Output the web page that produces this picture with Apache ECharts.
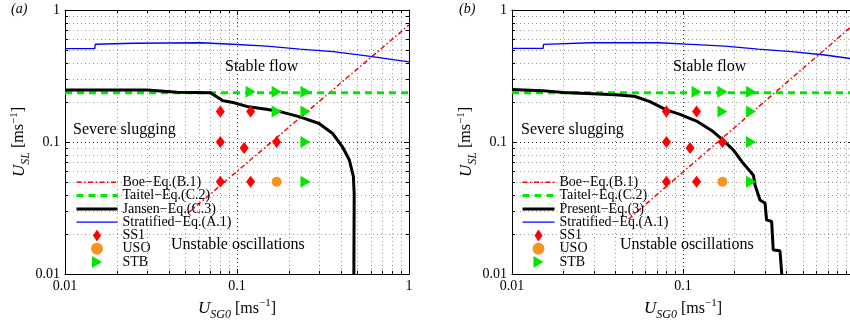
<!DOCTYPE html>
<html>
<head>
<meta charset="utf-8">
<script src="https://cdn.jsdelivr.net/npm/echarts@6/dist/echarts.min.js"></script>
<style>
	html, body { margin: 0; padding: 0; background: #fff; }
	#chart { width: 850px; height: 322px; }
</style>
</head>
<body>
<div id="chart"></div>
<script>
// axis values
var axisMin = 0.01;
var axisMax = 1;
var minorTicks = [0.02, 0.03, 0.04, 0.05, 0.06, 0.07, 0.08, 0.09, 0.2, 0.3, 0.4, 0.5, 0.6, 0.7, 0.8, 0.9];

// curves, [U_SG0, U_SL]
var boeLineA = [[0.052, 0.029], [1, 0.77]];
var boeLineB = [[0.048, 0.026], [1, 0.78]];
var taitelLine = [[0.01, 0.236], [1, 0.236]];
var stratifiedLineA = [[0.01, 0.51], [0.0149, 0.51], [0.015, 0.55], [0.025, 0.56], [0.061, 0.565], [0.095, 0.55], [0.149, 0.533], [0.232, 0.506], [0.363, 0.484], [0.568, 0.45], [1, 0.405]];
var stratifiedLineB = [[0.01, 0.512], [0.0152, 0.512], [0.0153, 0.549], [0.029, 0.565], [0.072, 0.565], [0.112, 0.549], [0.176, 0.533], [0.275, 0.506], [0.432, 0.484], [0.676, 0.456], [1, 0.425]];
var jansenLine = [[0.01, 0.248], [0.03, 0.248], [0.045, 0.238], [0.07, 0.236], [0.083, 0.205], [0.095, 0.199], [0.114, 0.186], [0.148, 0.177], [0.178, 0.17], [0.232, 0.155], [0.3, 0.138], [0.36, 0.116], [0.41, 0.092], [0.45, 0.073], [0.475, 0.055], [0.48, 0.04], [0.478, 0.01]];
var presentLine = [[0.01, 0.25], [0.015, 0.245], [0.02, 0.237], [0.04, 0.228], [0.052, 0.222], [0.064, 0.202], [0.08, 0.175], [0.096, 0.162], [0.115, 0.147], [0.12, 0.144], [0.15, 0.12], [0.172, 0.103], [0.197, 0.087], [0.225, 0.069], [0.258, 0.056], [0.264, 0.047], [0.282, 0.0364], [0.302, 0.0343], [0.308, 0.0257], [0.33, 0.025], [0.337, 0.0152], [0.369, 0.015], [0.378, 0.01]];

// experiments
var ss1Points = [[0.08, 0.17], [0.12, 0.17], [0.08, 0.1], [0.11, 0.09], [0.17, 0.1], [0.08, 0.05], [0.12, 0.05]];
var usoPoints = [[0.17, 0.05]];
var stbPoints = [[0.12, 0.24], [0.17, 0.24], [0.25, 0.24], [0.17, 0.17], [0.25, 0.17], [0.25, 0.1], [0.25, 0.05]];

var namesA = ['Boe−Eq.(B.1)', 'Taitel−Eq.(C.2)', 'Jansen−Eq.(C.3)', 'Stratified−Eq.(A.1)', 'SS1', 'USO', 'STB'];
var namesB = ['Boe−Eq.(B.1)', 'Taitel−Eq.(C.2)', 'Present−Eq.(3)', 'Stratified−Eq.(A.1)', 'SS1', 'USO', 'STB'];


var serif = 'Liberation Serif';
var colors = {
	boe: '#ff0000',
	taitel: '#00e600',
	curve: '#000000',
	stratified: '#0000ff',
	ss1: '#ff0000',
	uso: '#f7931e',
	stb: '#00e600',
	grid: '#999999',
	major: '#333333'
};

// zero-area symbol so line legends show only the stroke
var noMarker = 'path://M0,0L1,1L2,2Z';

var chart = echarts.init(document.getElementById('chart'), null, { renderer: 'canvas' });

function snap(v) {
	return Math.round(v) + 0.5;
}

function renderMinorGrid(params, api) {
	var v = api.value(0);
	var b = api.coord([v, axisMin]);
	var t = api.coord([v, axisMax]);
	var l = api.coord([axisMin, v]);
	var r = api.coord([axisMax, v]);
	var dotted = { stroke: colors.grid, lineWidth: 1, lineDash: [1, 3] };
	var tick = { stroke: '#000', lineWidth: 1 };
	var x = snap(b[0]);
	var y = snap(l[1]);
	return {
		type: 'group',
		children: [
			{ type: 'line', shape: { x1: x, y1: b[1], x2: x, y2: t[1] }, style: dotted },
			{ type: 'line', shape: { x1: l[0], y1: y, x2: r[0], y2: y }, style: dotted },
			{ type: 'line', shape: { x1: x, y1: b[1], x2: x, y2: b[1] - 3 }, style: tick },
			{ type: 'line', shape: { x1: x, y1: t[1], x2: x, y2: t[1] + 3 }, style: tick },
			{ type: 'line', shape: { x1: l[0], y1: y, x2: l[0] + 3, y2: y }, style: tick },
			{ type: 'line', shape: { x1: r[0], y1: y, x2: r[0] - 3, y2: y }, style: tick }
		]
	};
}

function makeAxis(gridIndex, position, showLabels, isX) {
	var axis = {
		type: 'log',
		logBase: 10,
		gridIndex: gridIndex,
		position: position,
		min: axisMin,
		max: axisMax,
		axisLine: { show: true, onZero: false, lineStyle: { color: '#000', width: 1 } },
		axisTick: { show: true, inside: true, length: 5, lineStyle: { color: '#000' } },
		axisLabel: {
			show: showLabels,
			fontFamily: serif,
			fontSize: 14,
			color: '#000',
			margin: 5,
			formatter: function (v) { return String(+v.toPrecision(3)); }
		},
		splitLine: {
			show: showLabels,
			lineStyle: { color: colors.major, type: [1, 3], width: 1 }
		}
	};
	if (showLabels) {
		axis.nameLocation = 'middle';
		axis.nameTextStyle = {
			fontFamily: serif,
			color: '#000',
			fontSize: 16,
			rich: {
				u: { fontFamily: serif, fontSize: 17, fontStyle: 'italic', color: '#000' },
				sub: { fontFamily: serif, fontSize: 12, fontStyle: 'italic', color: '#000', padding: [13, 0, 0, 0] },
				t: { fontFamily: serif, fontSize: 16, color: '#000' },
				sup: { fontFamily: serif, fontSize: 11, color: '#000', padding: [0, 0, 10, 0] }
			}
		};
		if (isX) {
			axis.name = '{u|U}{sub|SG0}{t| [ms}{sup|−1}{t|]}';
			axis.nameGap = 19;
		} else {
			axis.name = '{u|U}{sub|SL}{t| [ms}{sup|−1}{t|]}';
			axis.nameGap = 31;
		}
	}
	return axis;
}

function buildSeries(axisIndex, curveName, curveData, boeData, stratData) {
	var common = { xAxisIndex: axisIndex, yAxisIndex: axisIndex, animation: false };
	return [
		Object.assign({
			type: 'custom',
			name: 'minor-grid',
			silent: true,
			z: 0,
			data: minorTicks.map(function (v) { return [v, v]; }),
			encode: { x: 0, y: 1 },
			renderItem: renderMinorGrid
		}, common),
		Object.assign({
			type: 'line', name: 'Boe−Eq.(B.1)', data: boeData, symbol: noMarker, showSymbol: false, z: 3,
			lineStyle: { color: colors.boe, width: 1.5, type: [5, 2.5, 1.5, 2.5] },
			itemStyle: { color: colors.boe }
		}, common),
		Object.assign({
			type: 'line', name: 'Taitel−Eq.(C.2)', data: taitelLine, symbol: noMarker, showSymbol: false, z: 3,
			lineStyle: { color: colors.taitel, width: 3, type: [7, 5] },
			itemStyle: { color: colors.taitel }
		}, common),
		Object.assign({
			type: 'line', name: curveName, data: curveData, symbol: noMarker, showSymbol: false, z: 3,
			lineStyle: { color: colors.curve, width: 3 },
			itemStyle: { color: colors.curve }
		}, common),
		Object.assign({
			type: 'line', name: 'Stratified−Eq.(A.1)', data: stratData, symbol: noMarker, showSymbol: false, z: 3,
			lineStyle: { color: colors.stratified, width: 1.3 },
			itemStyle: { color: colors.stratified }
		}, common),
		Object.assign({
			type: 'scatter', name: 'SS1', data: ss1Points, z: 4,
			symbol: 'path://M4,0L8,6L4,12L0,6Z', symbolSize: [9, 12],
			itemStyle: { color: colors.ss1, opacity: 1 }
		}, common),
		Object.assign({
			type: 'scatter', name: 'USO', data: usoPoints, z: 4,
			symbol: 'circle', symbolSize: 10,
			itemStyle: { color: colors.uso, opacity: 1 }
		}, common),
		Object.assign({
			type: 'scatter', name: 'STB', data: stbPoints, z: 4,
			symbol: 'path://M0,0L10,6L0,12Z', symbolSize: [10, 12],
			itemStyle: { color: colors.stb, opacity: 1 }
		}, common)
	];
}

function makeLegend(names, left, itemWidth) {
	return {
		data: names,
		orient: 'vertical',
		left: left,
		top: 175.3,
		itemWidth: itemWidth,
		itemHeight: 12,
		itemGap: -0.7,
		padding: 0,
		selectedMode: false,
		lineStyle: { width: 'inherit' },
		textStyle: {
			fontFamily: serif,
			fontSize: 14,
			color: '#000'
		}
	};
}

function label(text, left, top, size, italic) {
	return {
		type: 'text',
		left: left,
		top: top,
		z: 10,
		style: {
			text: text,
			fontFamily: serif,
			fontSize: size,
			fontStyle: italic ? 'italic' : 'normal',
			fill: '#000'
		}
	};
}

var option = {
	backgroundColor: '#ffffff',
	animation: false,
	grid: [
		{ left: 65, top: 10, width: 344, height: 264, outerBoundsMode: 'none', containLabel: false },
		{ left: 512, top: 10, width: 342, height: 264, outerBoundsMode: 'none', containLabel: false }
	],
	xAxis: [
		makeAxis(0, 'bottom', true, true),
		makeAxis(0, 'top', false, true),
		makeAxis(1, 'bottom', true, true),
		makeAxis(1, 'top', false, true)
	],
	yAxis: [
		makeAxis(0, 'left', true, false),
		makeAxis(0, 'right', false, false),
		makeAxis(1, 'left', true, false),
		makeAxis(1, 'right', false, false)
	],
	legend: [
		makeLegend(namesA, 75, 41),
		makeLegend(namesB, 521, 32)
	],
	graphic: [
		label('(a)', 11, 2, 14, true),
		label('(b)', 459, 2, 14, true),
		label('Stable flow', 225, 59, 16),
		label('Severe slugging', 73, 122, 16),
		label('Unstable oscillations', 171, 237, 16),
		label('Stable flow', 673, 59, 16),
		label('Severe slugging', 521, 122, 16),
		label('Unstable oscillations', 620, 237, 16)
	],
	series: buildSeries(0, 'Jansen−Eq.(C.3)', jansenLine, boeLineA, stratifiedLineA)
		.concat(buildSeries(2, 'Present−Eq.(3)', presentLine, boeLineB, stratifiedLineB))
};

chart.setOption(option);
</script>
</body>
</html>
